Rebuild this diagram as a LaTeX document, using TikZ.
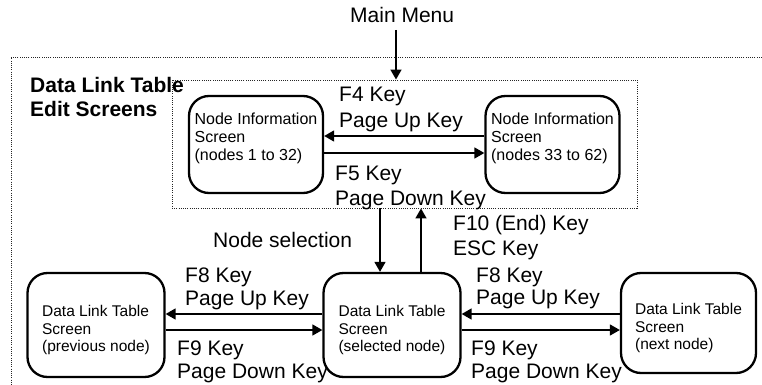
\documentclass[tikz,border=0pt]{standalone}
\usepackage{fontspec}
\setmainfont{Liberation Sans}
\usetikzlibrary{arrows.meta}
\begin{document}
\begin{tikzpicture}[x=1pt,y=-1pt,
  scr/.style={draw,line width=2.3pt,rounded corners=20pt,align=left,inner sep=0pt},
  nibox/.style={scr,minimum width=134pt,minimum height=97pt,font=\fontsize{16}{18}\selectfont},
  dlbox/.style={scr,minimum width=137pt,minimum height=104pt,font=\fontsize{15.5}{17.5}\selectfont},
  arr/.style={line width=1.6pt,-{Triangle[length=10pt,width=11pt]}},
  big/.style={font=\fontsize{21}{24}\selectfont,anchor=base west,inner sep=0pt},
  dotln/.style={line width=0.9pt,black!85,dash pattern=on 1pt off 1.2pt}]
\useasboundingbox (0,0) rectangle (762,385);
% outer dotted frame (clipped at right and bottom)
\draw[dotln] (762,57) -- (11,57) -- (11,385);
% inner dotted frame
\node[dotln,draw,minimum width=465pt,minimum height=128pt,inner sep=0pt] (inner) at (404.5,144) {};
% main menu
\node[big] (mm) at (350,23) {Main Menu};
\coordinate (mmfoot) at (396,30);
\draw[arr] (mmfoot) -- (mmfoot |- inner.north);
% title
\node[big,font=\bfseries\fontsize{21}{24}\selectfont] (t1) at (30,93) {Data Link Table};
\node[big,font=\bfseries\fontsize{21}{24}\selectfont] (t2) at (30,117) {Edit Screens};
% node information screens
\node[nibox] (ni1) at (256,144.5) {Node Information\\Screen\\(nodes 1 to 32)\rule[-16pt]{0pt}{1pt}};
\node[nibox] (ni2) at (552.5,144.5) {Node Information\\Screen\\(nodes 33 to 62)\rule[-16pt]{0pt}{1pt}};
\draw[arr] ([yshift=8.5pt]ni2.west) -- ([yshift=8.5pt]ni1.east);
\draw[arr] ([yshift=-8.5pt]ni1.east) -- ([yshift=-8.5pt]ni2.west);
\node[big] (f4) at (339,102) {F4 Key};
\node[big] (pu1) at (339,128) {Page Up Key};
\node[big] (f5) at (335,180) {F5 Key};
\node[big] (pd1) at (335,205) {Page Down Key};
% data link table screens
\node[dlbox] (prev) at (96,325) {\rule{0pt}{22pt}Data Link Table\\Screen\\(previous node)};
\node[dlbox] (sel) at (392,325) {\rule{0pt}{22pt}Data Link Table\\Screen\\(selected node)};
\node[dlbox,minimum width=135pt,minimum height=100pt] (next) at (688.5,323) {\rule{0pt}{22pt}Data Link Table\\Screen\\(next node)};
\draw[arr] ([yshift=11pt]sel.west) -- ([yshift=11pt]prev.east);
\draw[arr] ([yshift=-5pt]prev.east) -- ([yshift=-5pt]sel.west);
\draw[arr] ([yshift=9pt]next.west) -- ([yshift=11pt]sel.east);
\draw[arr] ([yshift=-5pt]sel.east) -- ([yshift=-7pt]next.west);
% vertical connections
\draw[arr] ([xshift=-12pt]sel.north |- inner.south) -- ([xshift=-12pt]sel.north);
\draw[arr] ([xshift=29pt]sel.north) -- ([xshift=29pt]sel.north |- inner.south);
\node[big] (ns) at (213,247) {Node selection};
\node[big] (f10) at (453,230) {F10 (End) Key};
\node[big] (esc) at (453,255) {ESC Key};
% lower labels
\node[big] (f8a) at (185,282) {F8 Key};
\node[big] (pu2) at (185,305) {Page Up Key};
\node[big] (f9a) at (177,355) {F9 Key};
\node[big] (pd2) at (177,378) {Page Down Key};
\node[big] (f8b) at (476,282) {F8 Key};
\node[big] (pu3) at (476,304) {Page Up Key};
\node[big] (f9b) at (471,355) {F9 Key};
\node[big] (pd3) at (471,378) {Page Down Key};
\end{tikzpicture}
\end{document}
